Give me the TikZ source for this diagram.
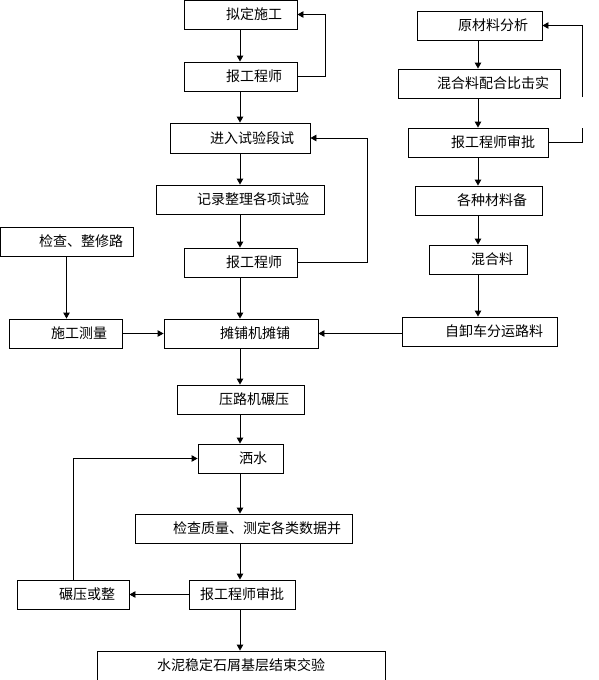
\documentclass[tikz,border=0pt]{standalone}
\usepackage{fontspec}
\setmainfont{Noto Sans CJK SC}
\usetikzlibrary{arrows.meta}
\tikzset{
  boxst/.style={draw=black, line width=0.9pt, inner sep=0pt, rectangle},
  lbl/.style={inner sep=0pt, anchor=west, font=\fontsize{14}{14}\selectfont},
  conn/.style={draw=black, line width=0.9pt},
  arr/.style={conn, -{Triangle[width=6.5pt,length=6pt]}}
}
\newcommand\mybox[7]{%
  \node[boxst, minimum width={(#4-(#2))*1pt}, minimum height={(#5-(#3))*1pt}]
    (#1) at ({(#2+#4)/2},{(#3+#5)/2}) {};
  \node[lbl] (#1t) at (#6,{(#3+#5)/2}) {#7};
}
\begin{document}
\begin{tikzpicture}[x=1pt,y=-1pt]
\useasboundingbox (0,0) rectangle (598,680);
\coordinate (mainx) at (240,0);
\coordinate (rightx) at (478,0);
% main column
\mybox{nide}{184}{0}{297}{29}{226}{拟定施工}
\mybox{baoa}{184}{62}{297}{91}{226}{报工程师}
\mybox{jinru}{170}{123}{310}{153}{210}{进入试验段试}
\mybox{jilu}{156}{185}{324}{214}{197}{记录整理各项试验}
\mybox{baob}{184}{248}{297}{277}{226}{报工程师}
\mybox{tanpu}{164}{319}{318}{348}{220}{摊铺机摊铺}
\mybox{yalu}{177}{385}{304}{414}{219}{压路机碾压}
\mybox{sashui}{198}{444}{283}{473}{239}{洒水}
\mybox{jiancha}{135}{514}{352}{543}{173}{检查质量、测定各类数据并}
\mybox{baoc}{189}{580}{295}{609}{200}{报工程师审批}
\mybox{nianya}{17}{580}{129}{609}{59}{碾压或整}
\node[boxst, minimum width=288pt, minimum height=50pt] (shuini) at (241,676) {};
\node[lbl] (shuinit) at (157,665) {水泥稳定石屑基层结束交验};
% left column
\mybox{jcxl}{0}{227}{133}{256}{39}{检查、整修路}
\mybox{celiang}{9}{319}{122}{348}{51}{施工测量}
% right column
\mybox{yuan}{417}{11}{542}{40}{458}{原材料分析}
\mybox{hunhe}{398}{69}{560}{98}{437}{混合料配合比击实}
\mybox{baod}{408}{128}{548}{157}{451}{报工程师审批}
\mybox{gezhong}{415}{186}{542}{215}{457}{各种材料备}
\mybox{hunheliao}{429}{245}{527}{274}{471}{混合料}
\mybox{zixie}{402}{317}{557}{346}{445}{自卸车分运路料}
% main column arrows
\draw[arr] (nide.south -| mainx) -- (baoa.north -| mainx);
\draw[arr] (baoa.south -| mainx) -- (jinru.north -| mainx);
\draw[arr] (jinru.south -| mainx) -- (jilu.north -| mainx);
\draw[arr] (jilu.south -| mainx) -- (baob.north -| mainx);
\draw[arr] (baob.south -| mainx) -- (tanpu.north -| mainx);
\draw[arr] (tanpu.south -| mainx) -- (yalu.north -| mainx);
\draw[arr] (yalu.south -| mainx) -- (sashui.north -| mainx);
\draw[arr] (sashui.south -| mainx) -- (jiancha.north -| mainx);
\draw[arr] (jiancha.south -| mainx) -- (baoc.north -| mainx);
\draw[arr] (baoc.south -| mainx) -- (shuini.north -| mainx);
% right column arrows
\draw[arr] (yuan.south -| rightx) -- (hunhe.north -| rightx);
\draw[arr] (hunhe.south -| rightx) -- (baod.north -| rightx);
\draw[arr] (baod.south -| rightx) -- (gezhong.north -| rightx);
\draw[arr] (gezhong.south -| rightx) -- (hunheliao.north -| rightx);
\draw[arr] (hunheliao.south -| rightx) -- (zixie.north -| rightx);
% left column
\draw[arr] (jcxl.south) -- (jcxl.south |- celiang.north);
\draw[arr] (celiang.east) -- (tanpu.west);
\draw[arr] (zixie.west |- tanpu.east) -- (tanpu.east);
\draw[arr] (baoc.west) -- (nianya.east);
% loops
\draw[arr] (baoa.east) -- (325,76.5) |- (nide.east);
\draw[arr] (baob.east) -- (367,262.5) |- (jinru.east);
\coordinate (gapB) at (582,128);
\coordinate (gapT) at (582,97);
\draw[conn] (baod.east) -| (gapB);
\draw[arr] (gapT) |- (yuan.east);
\draw[arr] (nianya.north) |- (sashui.west);
\end{tikzpicture}
\end{document}
